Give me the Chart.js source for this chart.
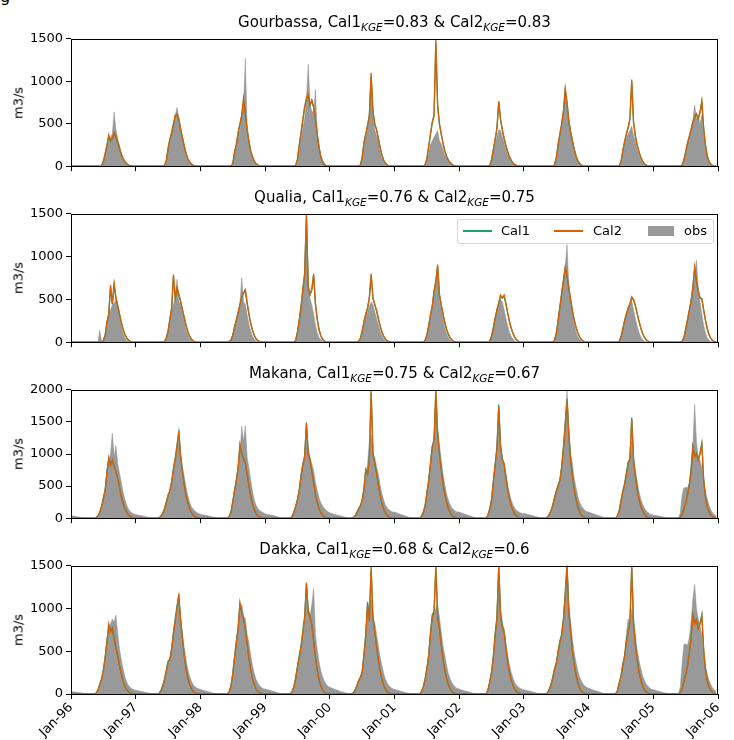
<!DOCTYPE html>
<html>
<head>
<meta charset="utf-8">
<script src="https://cdn.jsdelivr.net/npm/chart.js@4.4.1/dist/chart.umd.min.js"></script>
<style>
  body { margin: 0; background: #fff; font-family: "DejaVu Sans", sans-serif; }
  #page { position: relative; width: 734px; height: 740px; overflow: hidden; }
  #page canvas { position: absolute; left: 0; }
  .ttl { position: absolute; left: 71px; width: 647px; text-align: center; font-size: 15px; line-height: 18px; color: #000; white-space: nowrap; }
  .ttl .sb { font-size: 10.5px; font-style: italic; position: relative; top: 4px; }
  .ylab { position: absolute; left: 18px; font-size: 13px; color: #000; white-space: nowrap; transform: translate(-50%, -50%) rotate(-90deg); }
  .lgd { position: absolute; left: 457px; top: 219px; width: 255px; height: 23px; border: 1px solid #d6d6d6; border-radius: 3px; background: rgba(255,255,255,0.85); font-size: 13px; color: #000; }
  .lgd span { position: absolute; }
  .cut { position: absolute; left: 0; top: -13px; font-size: 16px; color: #000; }
</style>
</head>
<body>
<div id="page">
  <div class="cut">g</div>
</div>
<script>
// years on the x axis (one row of 36 ten-day values per year)
const YEARS = [1996, 1997, 1998, 1999, 2000, 2001, 2002, 2003, 2004, 2005];
const TICK_YEARS = [1996, 1997, 1998, 1999, 2000, 2001, 2002, 2003, 2004, 2005, 2006];
const TICK_LABELS = ['Jan-96', 'Jan-97', 'Jan-98', 'Jan-99', 'Jan-00', 'Jan-01', 'Jan-02', 'Jan-03', 'Jan-04', 'Jan-05', 'Jan-06'];
const Y_TICKS_1500 = [0, 500, 1000, 1500];
const Y_TICKS_2000 = [0, 500, 1000, 1500, 2000];

const STATIONS = ['Gourbassa', 'Qualia', 'Makana', 'Dakka'];
const KGE_CAL1 = ['0.83', '0.76', '0.75', '0.68'];
const KGE_CAL2 = ['0.83', '0.75', '0.67', '0.6'];

// Gourbassa (m3/s, ten-day steps)
const gourbassaObs = [
  [0,0,0,0,0, 0,0,0,0,0, 0,0,0,0,0, 0,0, 0,40,120,220,300,340,380,640,430,330,240,150,90,50,25,10,4,0,0],
  [0,0,0,0,0, 0,0,0,0,0, 0,0,0,0,0, 0, 10,50,200,300,380,480,600,690,560,420,330,230,120,70,40,20,8,3,0,0],
  [0,0,0,0,0, 0,0,0,0,0, 0,0,0,0,0, 0,0,0, 20,150,230,380,420,630,700,1270,470,280,160,90,50,25,10,4,0,0],
  [0,0,0,0,0, 0,0,0,0,0, 0,0,0,0,0, 0,0,0, 40,200,330,450,560,780,1200,720,650,630,900,380,240,130,70,30,10,0],
  [0,0,0,0,0, 0,0,0,0,0, 0,0,0,0,0, 0,0, 10,80,250,330,420,560,900,600,430,360,300,170,100,55,25,10,4,0,0],
  [0,0,0,0,0, 0,0,0,0,0, 0,0,0,0,0, 0,0, 5,60,150,250,300,340,380,420,300,260,200,130,100,70,45,25,12,5,0],
  [0,0,0,0,0, 0,0,0,0,0, 0,0,0,0,0, 0,0, 5,60,160,260,350,430,420,350,280,200,140,90,55,30,15,6,2,0,0],
  [0,0,0,0,0, 0,0,0,0,0, 0,0,0,0,0, 0,0, 10,80,220,330,450,600,880,720,520,400,300,190,110,60,30,12,5,0,0],
  [0,0,0,0,0, 0,0,0,0,0, 0,0,0,0,0, 0,0,0, 40,150,250,330,380,420,470,360,290,200,130,80,45,22,10,4,0,0],
  [0,0,0,0,0, 0,0,0,0,0, 0,0,0,0,0, 0, 10,60,150,250,330,420,520,720,560,580,500,600,380,200,90,40,15,5,0,0]
];
const gourbassaCal1 = [
  [0,0,0,0,0, 0,0,0,0,0, 0,0,0,0,0, 0,0, 5,55,140,240,350,290,320,385,340,275,205,138,88,54,30,14,6,2,0],
  [0,0,0,0,0, 0,0,0,0,0, 0,0,0,0,0, 0, 10,55,200,310,390,490,590,600,550,435,335,238,150,90,50,25,10,4,0,0],
  [0,0,0,0,0, 0,0,0,0,0, 0,0,0,0,0, 0,0,0, 28,160,250,390,490,590,780,610,425,288,180,110,60,30,12,5,0,0],
  [0,0,0,0,0, 0,0,0,0,0, 0,0,0,0,0, 0,0, 10,75,240,390,540,690,790,830,710,770,690,555,378,220,110,50,20,6,0],
  [0,0,0,0,0, 0,0,0,0,0, 0,0,0,0,0, 0,0, 14,95,270,370,470,590,1060,640,495,428,330,220,130,70,35,14,5,0,0],
  [0,0,0,0,0, 0,0,0,0,0, 0,0,0,0,0, 0,0, 14,85,220,370,510,590,1450,710,495,378,270,180,115,70,40,20,8,3,0],
  [0,0,0,0,0, 0,0,0,0,0, 0,0,0,0,0, 0,0, 10,75,190,310,440,750,550,425,328,240,170,110,65,35,18,8,3,0,0],
  [0,0,0,0,0, 0,0,0,0,0, 0,0,0,0,0, 0,0, 14,95,240,370,490,640,900,740,535,398,300,200,120,65,32,14,5,0,0],
  [0,0,0,0,0, 0,0,0,0,0, 0,0,0,0,0, 0,0,0, 48,170,280,370,450,550,990,515,358,250,170,105,60,30,13,5,0,0],
  [0,0,0,0,0, 0,0,0,0,0, 0,0,0,0,0, 0, 12,66,165,265,345,425,515,575,610,555,632,752,445,250,120,55,22,7,0,0]
];
const gourbassaCal2 = [
  [0,0,0,0,0, 0,0,0,0,0, 0,0,0,0,0, 0,0, 5,60,150,250,370,300,330,400,350,280,210,140,90,55,30,14,6,2,0],
  [0,0,0,0,0, 0,0,0,0,0, 0,0,0,0,0, 0, 10,60,210,320,400,500,600,620,560,440,340,240,150,90,50,25,10,4,0,0],
  [0,0,0,0,0, 0,0,0,0,0, 0,0,0,0,0, 0,0,0, 30,170,260,400,500,600,800,620,430,290,180,110,60,30,12,5,0,0],
  [0,0,0,0,0, 0,0,0,0,0, 0,0,0,0,0, 0,0, 10,80,250,400,550,700,800,850,720,780,700,560,380,220,110,50,20,6,0],
  [0,0,0,0,0, 0,0,0,0,0, 0,0,0,0,0, 0,0, 15,100,280,380,480,600,1100,650,500,430,330,220,130,70,35,14,5,0,0],
  [0,0,0,0,0, 0,0,0,0,0, 0,0,0,0,0, 0,0, 15,90,230,380,520,600,1490,720,500,380,270,180,115,70,40,20,8,3,0],
  [0,0,0,0,0, 0,0,0,0,0, 0,0,0,0,0, 0,0, 10,80,200,320,450,767,560,430,330,240,170,110,65,35,18,8,3,0,0],
  [0,0,0,0,0, 0,0,0,0,0, 0,0,0,0,0, 0,0, 15,100,250,380,500,650,915,750,540,400,300,200,120,65,32,14,5,0,0],
  [0,0,0,0,0, 0,0,0,0,0, 0,0,0,0,0, 0,0,0, 50,180,290,380,460,560,1020,520,360,250,170,105,60,30,13,5,0,0],
  [0,0,0,0,0, 0,0,0,0,0, 0,0,0,0,0, 0, 12,70,170,270,350,430,520,580,620,560,640,771,450,250,120,55,22,7,0,0]
];

// Qualia
const qualiaObs = [
  [0,0,0,0,0, 0,0,0,0,0, 0,0,0,0,0, 0, 140,10,30,100,230,320,380,434,460,492,420,300,180,100,50,22,8,3,0,0],
  [0,0,0,0,0, 0,0,0,0,0, 0,0,0,0,0, 0, 10,40,120,250,360,450,510,736,480,434,340,260,150,80,40,18,7,2,0,0],
  [0,0,0,0,0, 0,0,0,0,0, 0,0,0,0,0, 0, 10,30,90,190,270,357,450,752,470,440,320,210,130,70,35,15,6,2,0,0],
  [0,0,0,0,0, 0,0,0,0,0, 0,0,0,0,0, 0,0, 20,120,250,400,600,820,1500,700,510,434,330,200,110,55,25,10,4,0,0],
  [0,0,0,0,0, 0,0,0,0,0, 0,0,0,0,0, 0, 10,40,120,220,300,357,420,473,440,360,280,200,130,75,38,16,6,2,0,0],
  [0,0,0,0,0, 0,0,0,0,0, 0,0,0,0,0, 0,0, 20,80,180,300,400,590,700,820,480,390,280,170,95,50,22,8,3,0,0],
  [0,0,0,0,0, 0,0,0,0,0, 0,0,0,0,0, 0,0, 15,70,170,280,380,450,500,470,380,280,190,115,65,32,14,5,2,0,0],
  [0,0,0,0,0, 0,0,0,0,0, 0,0,0,0,0, 0,0, 20,100,250,400,560,750,880,1140,650,480,340,210,120,60,28,12,4,0,0],
  [0,0,0,0,0, 0,0,0,0,0, 0,0,0,0,0, 0,0, 10,60,150,250,330,400,450,480,380,280,190,115,65,30,12,4,0,0,0],
  [0,0,0,0,0, 0,0,0,0,0, 0,0,0,0,0, 0, 10,50,150,260,370,480,640,760,957,640,470,330,200,110,50,22,8,3,0,0]
];
const qualiaCal1 = [
  [0,0,0,0,0, 0,0,0,0,0, 0,0,0,0,0, 0,0,0, 18,75,230,320,640,440,670,512,425,326,228,148,88,48,24,10,4,0],
  [0,0,0,0,0, 0,0,0,0,0, 0,0,0,0,0, 0, 10,42,125,262,390,760,510,630,552,475,376,287,198,123,68,34,14,5,0,0],
  [0,0,0,0,0, 0,0,0,0,0, 0,0,0,0,0, 0, 8,24,76,175,255,345,435,522,572,600,455,326,218,138,78,38,17,5,0,0],
  [0,0,0,0,0, 0,0,0,0,0, 0,0,0,0,0, 0,0, 20,115,252,410,610,790,1450,640,552,610,780,445,268,148,73,34,13,4,0],
  [0,0,0,0,0, 0,0,0,0,0, 0,0,0,0,0, 0, 10,43,126,235,325,395,512,780,512,440,366,277,188,118,68,35,15,5,0,0],
  [0,0,0,0,0, 0,0,0,0,0, 0,0,0,0,0, 0,0, 20,82,185,315,415,590,712,880,552,436,327,228,148,88,48,23,9,3,0],
  [0,0,0,0,0, 0,0,0,0,0, 0,0,0,0,0, 0,0, 15,67,166,275,375,455,540,515,540,445,337,238,158,98,53,25,9,3,0],
  [0,0,0,0,0, 0,0,0,0,0, 0,0,0,0,0, 0,0, 20,96,245,405,565,710,860,770,632,495,367,258,173,108,60,29,12,4,0],
  [0,0,0,0,0, 0,0,0,0,0, 0,0,0,0,0, 0,0, 10,58,146,245,325,395,445,515,492,426,337,248,168,103,58,29,12,4,0],
  [0,0,0,0,0, 0,0,0,0,0, 0,0,0,0,0, 0, 10,48,146,255,365,475,630,860,710,595,516,505,376,257,158,88,44,19,6,0]
];
const qualiaCal2 = [
  [0,0,0,0,0, 0,0,0,0,0, 0,0,0,0,0, 0,0,0, 20,80,240,330,667,450,686,520,430,330,230,150,90,50,25,10,4,0],
  [0,0,0,0,0, 0,0,0,0,0, 0,0,0,0,0, 0, 10,45,130,270,400,790,520,640,560,480,380,290,200,125,70,35,15,5,0,0],
  [0,0,0,0,0, 0,0,0,0,0, 0,0,0,0,0, 0, 8,25,80,180,260,350,440,530,580,616,460,330,220,140,80,40,18,6,0,0],
  [0,0,0,0,0, 0,0,0,0,0, 0,0,0,0,0, 0,0, 20,120,260,420,620,800,1500,650,560,620,800,450,270,150,75,35,14,5,0],
  [0,0,0,0,0, 0,0,0,0,0, 0,0,0,0,0, 0, 10,45,130,240,330,400,520,802,520,445,370,280,190,120,70,36,16,6,0,0],
  [0,0,0,0,0, 0,0,0,0,0, 0,0,0,0,0, 0,0, 20,85,190,320,420,600,720,907,560,440,330,230,150,90,50,24,10,3,0],
  [0,0,0,0,0, 0,0,0,0,0, 0,0,0,0,0, 0,0, 15,70,170,280,380,460,550,520,550,450,340,240,160,100,55,26,10,3,0],
  [0,0,0,0,0, 0,0,0,0,0, 0,0,0,0,0, 0,0, 20,100,250,410,570,720,880,780,640,500,370,260,175,110,62,30,13,4,0],
  [0,0,0,0,0, 0,0,0,0,0, 0,0,0,0,0, 0,0, 10,60,150,250,330,400,450,530,500,430,340,250,170,105,60,30,13,4,0],
  [0,0,0,0,0, 0,0,0,0,0, 0,0,0,0,0, 0, 10,50,150,260,370,480,640,880,720,600,520,512,380,260,160,90,45,20,7,0]
];

// Makana
const makanaObs = [
  [40,35,30,25,20,15,10,5,0,0,0,0,0,0,10,40,100,200,320,450,750,900,1000,1325,950,1130,850,700,550,400,290,200,140,100,80,65],
  [55,50,45,40,35,28,22,15,10,5,0,0,0,10,40,90,160,250,350,420,550,750,900,1100,1300,1000,800,650,480,350,250,180,140,110,90,75],
  [60,55,50,45,40,32,25,18,12,6,0,0,0,0,0,0,30,100,275,450,600,800,1000,1430,1200,1440,950,780,590,420,275,200,150,120,100,85],
  [65,60,55,50,45,38,30,22,15,8,0,0,0,0,0,30,100,200,300,450,690,850,950,1400,1100,950,850,740,560,430,320,240,190,150,120,100],
  [85,75,65,58,50,42,35,28,20,12,5,0,0,10,40,90,150,200,275,450,650,850,1180,1300,1000,950,800,690,520,380,280,200,160,130,110,95],
  [95,85,75,65,55,45,35,25,15,8,0,0,0,0,0,30,100,200,400,590,850,1110,1250,1830,1400,1150,900,690,520,380,280,210,160,130,110,95],
  [95,85,75,65,55,45,35,25,15,8,0,0,0,0,0,0,50,150,300,590,850,1100,1650,1200,950,860,700,520,380,280,200,150,120,100,85,75],
  [75,68,60,52,45,38,30,22,14,7,0,0,0,20,60,120,200,330,430,520,590,800,1110,1500,1990,1370,1000,850,620,480,340,250,190,150,120,100],
  [95,85,75,65,55,45,35,25,15,8,0,0,0,0,0,0,40,120,275,420,535,700,900,850,1200,900,750,590,420,300,220,160,120,90,70,55],
  [50,45,40,34,28,22,16,10,5,0,0,0,0,0,0,80,350,470,480,470,550,850,1100,1770,1200,950,900,800,590,420,300,200,130,80,55,40]
];
const makanaCal1 = [
  [0,0,0,0,0, 0,0,0,0,0, 0,0,0,0, 10,37,92,185,310,440,715,930,835,915,810,728,625,485,342,232,152,90,50,25,10,4],
  [0,0,0,0,0, 0,0,0,0,0, 0,0,0, 5,32,72,145,245,358,430,570,775,935,1140,1340,965,730,525,362,242,150,85,45,22,9,3],
  [0,0,0,0,0, 0,0,0,0,0, 0,0,0,0,0, 0, 26,92,258,430,595,795,1130,1020,935,860,688,505,342,222,130,70,35,15,6,2],
  [0,0,0,0,0, 0,0,0,0,0, 0,0,0,0,0, 26,92,185,288,440,665,840,970,1490,1020,915,728,555,382,252,150,85,45,20,8,3],
  [0,0,0,0,0, 0,0,0,0,0, 0,0,0, 8,36,82,145,195,278,460,760,695,920,1950,1015,860,708,525,362,232,140,80,40,18,7,2],
  [0,0,0,0,0, 0,0,0,0,0, 0,0,0,0,0, 26,92,185,390,585,850,1120,1220,1960,1320,1015,768,545,372,242,146,85,42,20,8,2],
  [0,0,0,0,0, 0,0,0,0,0, 0,0,0,0,0, 0, 46,143,288,575,840,1100,1770,1120,915,850,628,445,302,192,116,65,32,14,5,2],
  [0,0,0,0,0, 0,0,0,0,0, 0,0,0, 16,52,112,195,318,420,512,595,800,1100,1480,1860,1320,915,658,445,292,180,100,50,22,9,3],
  [0,0,0,0,0, 0,0,0,0,0, 0,0,0,0,0, 0, 36,113,268,410,535,695,870,920,1570,935,658,465,302,192,116,65,32,14,5,2],
  [0,0,0,0,0, 0,0,0,0,0, 0,0,0,0,0, 15,62,144,226,358,512,715,1120,965,1015,912,1015,1170,608,333,180,95,48,22,9,3]
];
const makanaCal2 = [
  [0,0,0,0,0, 0,0,0,0,0, 0,0,0,0, 10,35,90,180,300,430,700,945,820,900,800,720,620,480,340,230,150,90,50,25,10,4],
  [0,0,0,0,0, 0,0,0,0,0, 0,0,0, 5,30,70,140,240,350,420,560,760,920,1120,1360,950,720,520,360,240,150,85,45,22,9,3],
  [0,0,0,0,0, 0,0,0,0,0, 0,0,0,0,0, 0, 25,90,250,420,580,780,1150,1000,920,850,680,500,340,220,130,70,35,15,6,2],
  [0,0,0,0,0, 0,0,0,0,0, 0,0,0,0,0, 25,90,180,280,430,650,820,950,1465,1000,900,720,550,380,250,150,85,45,20,8,3],
  [0,0,0,0,0, 0,0,0,0,0, 0,0,0, 8,35,80,140,190,270,450,740,680,900,2000,1000,850,700,520,360,230,140,80,40,18,7,2],
  [0,0,0,0,0, 0,0,0,0,0, 0,0,0,0,0, 25,90,180,380,570,830,1100,1200,2000,1300,1000,760,540,370,240,145,85,42,20,8,2],
  [0,0,0,0,0, 0,0,0,0,0, 0,0,0,0,0, 0, 45,140,280,560,820,1080,1735,1100,900,840,620,440,300,190,115,65,32,14,5,2],
  [0,0,0,0,0, 0,0,0,0,0, 0,0,0, 15,50,110,190,310,410,500,580,780,1080,1450,1830,1300,900,650,440,290,180,100,50,22,9,3],
  [0,0,0,0,0, 0,0,0,0,0, 0,0,0,0,0, 0, 35,110,260,400,520,680,850,900,1530,920,650,460,300,190,115,65,32,14,5,2],
  [0,0,0,0,0, 0,0,0,0,0, 0,0,0,0,0, 15,60,140,220,350,500,700,1100,950,1000,900,1000,1150,600,330,180,95,48,22,9,3]
];

// Dakka
const dakkaObs = [
  [30,27,24,21,18,15,12,9,6,3,0,0,0,0,15,50,120,175,250,450,650,750,820,877,840,923,700,525,400,290,200,140,100,75,60,50],
  [45,40,35,30,25,20,16,12,8,4,0,0,0,15,50,110,190,290,390,400,520,700,850,980,1100,900,720,540,400,290,210,150,110,85,70,60],
  [55,48,42,36,30,24,18,12,7,3,0,0,0,0,0,0,30,100,250,450,620,780,1000,1050,915,880,700,600,450,330,240,170,125,95,75,62],
  [58,52,46,40,34,28,22,15,8,4,0,0,0,0,0,30,90,200,330,450,565,700,840,1150,1000,915,1050,1235,700,520,380,270,200,150,115,90],
  [80,70,62,54,46,38,30,24,18,12,6,0,0,15,50,100,160,200,250,450,650,1030,950,1100,900,840,700,565,430,330,240,170,125,95,75,60],
  [55,48,42,36,30,24,18,13,8,4,0,0,0,0,0,30,90,175,300,450,700,915,950,1000,1050,900,720,560,450,330,240,175,130,100,80,65],
  [58,50,44,38,32,26,20,14,8,4,0,0,0,0,0,0,50,150,260,450,700,900,1500,1000,840,760,600,450,330,250,180,130,100,80,65,55],
  [50,45,40,34,28,23,18,12,7,3,0,0,0,15,60,120,200,300,370,500,620,680,840,1200,1450,1030,850,640,480,370,270,200,150,115,90,75],
  [68,60,52,45,38,31,24,17,10,5,0,0,0,0,0,0,40,130,215,350,450,700,880,800,1000,880,700,520,400,300,215,160,120,90,70,55],
  [50,44,38,32,26,20,15,10,6,3,0,0,0,0,0,80,350,580,585,570,650,840,1100,1285,1000,880,800,700,450,330,230,160,110,70,45,32]
];
const dakkaCal1 = [
  [0,0,0,0,0, 0,0,0,0,0, 0,0,0,0, 12,47,113,175,280,430,615,800,735,772,650,546,444,333,232,152,90,50,25,11,4,1],
  [0,0,0,0,0, 0,0,0,0,0, 0,0,0, 5,36,87,165,267,380,410,535,720,880,1030,1150,865,650,455,302,192,110,60,30,12,5,1],
  [0,0,0,0,0, 0,0,0,0,0, 0,0,0,0,0, 0, 26,92,236,430,615,780,1050,970,875,770,588,425,282,182,106,58,28,12,5,1],
  [0,0,0,0,0, 0,0,0,0,0, 0,0,0,0,0, 26,82,185,318,440,565,740,905,1290,970,915,810,628,435,282,172,95,48,20,8,3],
  [0,0,0,0,0, 0,0,0,0,0, 0,0,0, 10,42,92,154,195,258,462,700,1080,868,1450,895,730,566,404,272,172,100,55,27,11,4,1],
  [0,0,0,0,0, 0,0,0,0,0, 0,0,0,0,0, 26,82,170,298,452,708,925,975,1470,915,770,586,414,282,182,106,58,28,12,5,1],
  [0,0,0,0,0, 0,0,0,0,0, 0,0,0,0,0, 0, 46,144,258,442,700,905,1470,935,790,728,546,384,252,162,96,52,25,11,4,1],
  [0,0,0,0,0, 0,0,0,0,0, 0,0,0, 10,46,103,185,288,360,494,618,700,885,1180,1520,965,730,506,344,222,130,70,35,15,6,2],
  [0,0,0,0,0, 0,0,0,0,0, 0,0,0,0,0, 0, 36,123,206,340,442,618,740,845,1500,832,588,405,262,172,100,55,27,11,4,1],
  [0,0,0,0,0, 0,0,0,0,0, 0,0,0,0,0, 15,62,144,226,330,474,658,930,835,875,772,832,930,526,292,160,85,42,18,7,2]
];
const dakkaCal2 = [
  [0,0,0,0,0, 0,0,0,0,0, 0,0,0,0, 12,45,110,170,273,420,600,818,720,760,640,540,440,330,230,150,90,50,25,11,4,1],
  [0,0,0,0,0, 0,0,0,0,0, 0,0,0, 5,35,85,160,260,370,400,520,700,860,1000,1170,850,640,450,300,190,110,60,30,12,5,1],
  [0,0,0,0,0, 0,0,0,0,0, 0,0,0,0,0, 0, 25,90,230,420,600,760,1070,950,860,760,580,420,280,180,105,58,28,12,5,1],
  [0,0,0,0,0, 0,0,0,0,0, 0,0,0,0,0, 25,80,180,310,430,550,720,880,1305,950,900,800,620,430,280,170,95,48,20,8,3],
  [0,0,0,0,0, 0,0,0,0,0, 0,0,0, 10,40,90,150,190,250,450,680,1050,850,1500,880,720,560,400,270,170,100,55,27,11,4,1],
  [0,0,0,0,0, 0,0,0,0,0, 0,0,0,0,0, 25,80,165,290,440,690,900,950,1500,900,760,580,410,280,180,105,58,28,12,5,1],
  [0,0,0,0,0, 0,0,0,0,0, 0,0,0,0,0, 0, 45,140,250,430,680,880,1500,920,780,720,540,380,250,160,95,52,25,11,4,1],
  [0,0,0,0,0, 0,0,0,0,0, 0,0,0, 10,45,100,180,280,350,480,600,680,860,1150,1500,950,720,500,340,220,130,70,35,15,6,2],
  [0,0,0,0,0, 0,0,0,0,0, 0,0,0,0,0, 0, 35,120,200,330,430,600,720,820,1480,820,580,400,260,170,100,55,27,11,4,1],
  [0,0,0,0,0, 0,0,0,0,0, 0,0,0,0,0, 15,60,140,220,320,460,640,915,820,860,760,820,915,520,290,160,85,42,18,7,2]
];

const OBS_COLOR = '#999999';
const CAL1_COLOR = '#1b9e77';
const CAL2_COLOR = '#d95f02';

// plot boxes in page pixels
const panels = [
  { obs: gourbassaObs, cal1: gourbassaCal1, cal2: gourbassaCal2, max: 1500, yt: Y_TICKS_1500, top: 38, bottom: 167 },
  { obs: qualiaObs, cal1: qualiaCal1, cal2: qualiaCal2, max: 1500, yt: Y_TICKS_1500, top: 213, bottom: 343 },
  { obs: makanaObs, cal1: makanaCal1, cal2: makanaCal2, max: 2000, yt: Y_TICKS_2000, top: 389, bottom: 519 },
  { obs: dakkaObs, cal1: dakkaCal1, cal2: dakkaCal2, max: 1500, yt: Y_TICKS_1500, top: 565, bottom: 694 }
];

function toPoints(rows) {
  const pts = [];
  rows.forEach((row, yi) => {
    row.forEach((v, d) => pts.push({ x: YEARS[yi] + d / 36, y: v }));
  });
  return pts;
}

// matplotlib style box around the axes
const framePlugin = {
  id: 'frame',
  afterDraw(chart) {
    const a = chart.chartArea, ctx = chart.ctx;
    ctx.save();
    ctx.strokeStyle = '#000';
    ctx.lineWidth = 1;
    ctx.strokeRect(Math.round(a.left) + 0.5, Math.round(a.top) + 0.5, Math.round(a.right - a.left) - 1, Math.round(a.bottom - a.top));
    ctx.restore();
  }
};

const page = document.getElementById('page');
const tickFont = { family: 'DejaVu Sans', size: 13 };

panels.forEach((p, i) => {
  const last = i === panels.length - 1;
  const xH = last ? 46 : 10;
  const h = p.bottom - p.top;

  const cv = document.createElement('canvas');
  cv.width = 734;
  cv.height = h + 10 + xH;
  cv.style.top = (p.top - 10) + 'px';
  page.appendChild(cv);

  // title with KGE subscripts
  const t = document.createElement('div');
  t.className = 'ttl';
  t.style.top = (p.top - 25) + 'px';
  t.innerHTML = STATIONS[i] + ', Cal1<span class="sb">KGE</span>=' + KGE_CAL1[i] +
    ' &amp; Cal2<span class="sb">KGE</span>=' + KGE_CAL2[i];
  page.appendChild(t);

  const yl = document.createElement('div');
  yl.className = 'ylab';
  yl.style.top = ((p.top + p.bottom) / 2) + 'px';
  yl.textContent = 'm3/s';
  page.appendChild(yl);

  new Chart(cv, {
    type: 'line',
    data: {
      datasets: [
        { label: 'obs', data: toPoints(p.obs), fill: 'origin', backgroundColor: OBS_COLOR,
          borderColor: 'rgba(150,150,150,0.7)', borderWidth: 0.8, pointRadius: 0, order: 3 },
        { label: 'Cal1', data: toPoints(p.cal1), fill: false, borderColor: CAL1_COLOR,
          borderWidth: 1.3, pointRadius: 0, order: 2 },
        { label: 'Cal2', data: toPoints(p.cal2), fill: false, borderColor: CAL2_COLOR,
          borderWidth: 1.3, pointRadius: 0, order: 1 }
      ]
    },
    options: {
      responsive: false,
      animation: false,
      events: [],
      layout: { padding: { top: 10, right: 16, left: 0, bottom: 0 } },
      plugins: { legend: { display: false }, tooltip: { enabled: false } },
      scales: {
        x: {
          type: 'linear', min: 1996, max: 2006,
          afterFit(s) { s.height = xH; },
          afterBuildTicks(s) { s.ticks = TICK_YEARS.map(v => ({ value: v })); },
          ticks: {
            display: last, autoSkip: false, maxRotation: 45, minRotation: 45,
            font: tickFont, color: '#000', padding: 1,
            callback: (v, idx) => TICK_LABELS[idx]
          },
          grid: { drawOnChartArea: false, drawTicks: true, tickLength: 5, color: '#000', tickWidth: 1 },
          border: { display: false }
        },
        y: {
          min: 0, max: p.max,
          afterFit(s) { s.width = 71; },
          afterBuildTicks(s) { s.ticks = p.yt.map(v => ({ value: v })); },
          ticks: { font: tickFont, color: '#000', padding: 3, callback: v => String(v) },
          grid: { drawOnChartArea: false, drawTicks: true, tickLength: 5, color: '#000', tickWidth: 1 },
          border: { display: false }
        }
      }
    },
    plugins: [framePlugin]
  });
});

// legend inside the Qualia panel
const lg = document.createElement('div');
lg.className = 'lgd';
lg.innerHTML =
  '<span style="left:5px;top:10px;width:29px;height:2px;background:' + CAL1_COLOR + '"></span>' +
  '<span style="left:43px;top:3px">Cal1</span>' +
  '<span style="left:96px;top:10px;width:29px;height:2px;background:' + CAL2_COLOR + '"></span>' +
  '<span style="left:135px;top:3px">Cal2</span>' +
  '<span style="left:190px;top:6px;width:26px;height:10px;background:' + OBS_COLOR + '"></span>' +
  '<span style="left:226px;top:3px">obs</span>';
page.appendChild(lg);
</script>
</body>
</html>
